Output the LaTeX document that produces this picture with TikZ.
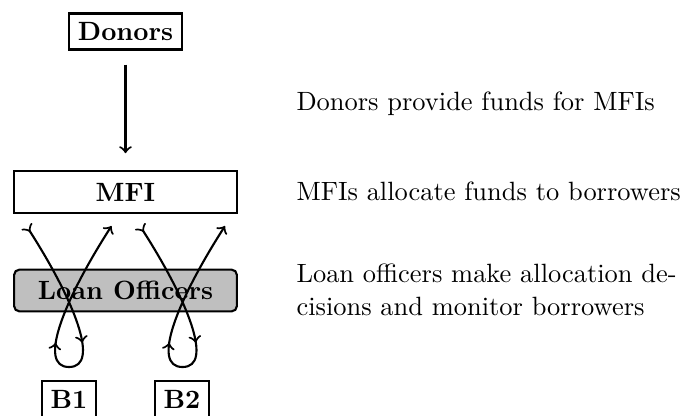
\documentclass[tikz,border=0pt]{standalone}
\usetikzlibrary{decorations.markings}
\begin{document}
\begin{tikzpicture}[x=0.3784pt,y=-0.3784pt,
  box/.style={draw,thick,fill=white,font=\bfseries,inner sep=3.33pt},
  widebox/.style={box,minimum width=84.3pt,minimum height=15.8pt},
  officebox/.style={widebox,fill=lightgray,rounded corners=2pt},
  note/.style={anchor=base west,inner sep=0pt},
  loop/.style={thick,>->,postaction={decorate},
    decoration={markings,mark=at position 0.40 with {\arrow{>}},
                         mark=at position 0.60 with {\arrow{>}}}}]
\useasboundingbox (0,0) rectangle (683,415);

\node[box] (donors) at (125.5,31.5) {Donors};
\node[widebox] (mfi) at (125.5,192) {MFI};
\node[officebox] (lo) at (125.5,290.5) {Loan Officers};
\node[box] (b1) at (69,399) {B1};
\node[box] (b2) at (182,399) {B2};

\draw[thick,->,shorten <=5.3pt,shorten >=6.4pt] (donors) -- (mfi);

% loop 1
\coordinate (s1) at (26.5,226);
\coordinate (m1) at (69,367);
\coordinate (e1) at (111.5,226);
\draw[loop] (s1) .. controls (74,300) and (101,367) .. (m1)
                 .. controls (37,367) and (64,300) .. (e1);
% loop 2
\coordinate (s2) at (140,226);
\coordinate (m2) at (182.5,367);
\coordinate (e2) at (225,226);
\draw[loop] (s2) .. controls (187.5,300) and (214.5,367) .. (m2)
                 .. controls (150.5,367) and (177.5,300) .. (e2);

\node[note] (t1) at (296,110) {Donors provide funds for MFIs};
\node[note] (t2) at (296,200) {MFIs allocate funds to borrowers};
\node[anchor=north west,inner sep=0pt,align=left] (t3) at (296,263.4)
  {Loan officers make allocation de-\\[0.6pt]cisions and monitor borrowers};
\end{tikzpicture}
\end{document}
